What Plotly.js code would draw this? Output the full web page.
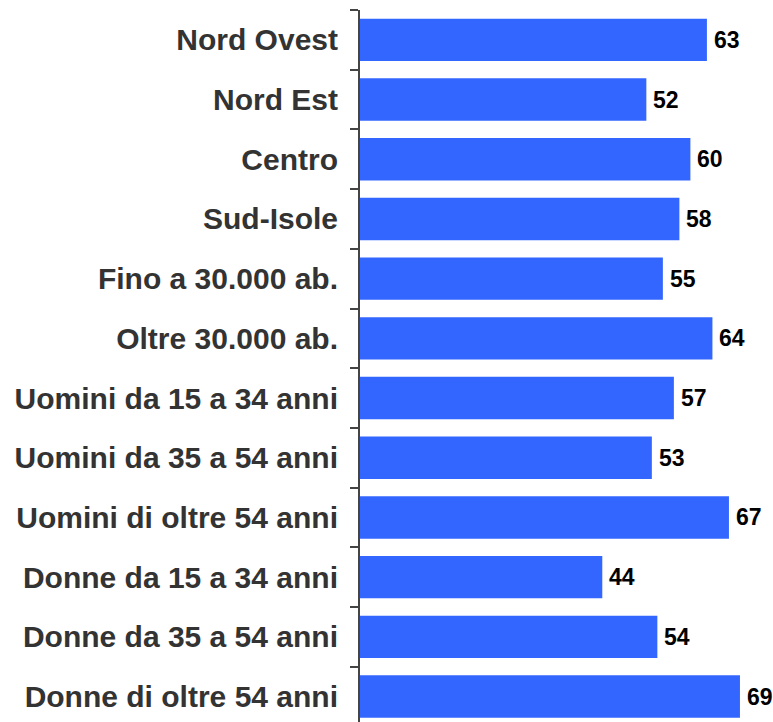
<!DOCTYPE html>
<html>
<head>
<meta charset="utf-8">
<script src="https://cdn.plot.ly/plotly-3.0.1.min.js"></script>
<style>html,body{margin:0;padding:0;background:#fff;}#chart{width:773px;height:722px;}</style>
</head>
<body>
<div id="chart"></div>
<script>
const categories = [
  "Nord Ovest",
  "Nord Est",
  "Centro",
  "Sud-Isole",
  "Fino a 30.000 ab.",
  "Oltre 30.000 ab.",
  "Uomini da 15 a 34 anni",
  "Uomini da 35 a 54 anni",
  "Uomini di oltre 54 anni",
  "Donne da 15 a 34 anni",
  "Donne da 35 a 54 anni",
  "Donne di oltre 54 anni"
];
const values = [63, 52, 60, 58, 55, 64, 57, 53, 67, 44, 54, 69];

const trace = {
  type: 'bar',
  orientation: 'h',
  x: values,
  y: categories,
  width: 0.71,
  marker: {color: '#3366FF'},
  cliponaxis: false,
  hoverinfo: 'none'
};

const annotations = values.map((v, i) => ({
  x: v,
  y: categories[i],
  xref: 'x',
  yref: 'y',
  text: String(v),
  showarrow: false,
  xanchor: 'left',
  yanchor: 'middle',
  xshift: 5,
  font: {family: 'Liberation Sans, Arial, sans-serif', size: 23, color: '#000000', weight: 'bold'}
}));

const layout = {
  width: 773,
  height: 722,
  margin: {l: 360, r: 0, t: 10, b: 0, pad: 0},
  paper_bgcolor: '#ffffff',
  plot_bgcolor: '#ffffff',
  showlegend: false,
  annotations: annotations,
  xaxis: {range: [0, 75], visible: false, fixedrange: true},
  yaxis: {
    type: 'category',
    range: [11.426, -0.5],
    showline: true,
    linecolor: '#444444',
    linewidth: 2,
    ticks: 'outside',
    tickson: 'boundaries',
    ticklen: 8,
    tickwidth: 2,
    tickcolor: '#444444',
    showgrid: false,
    zeroline: false,
    ticklabelstandoff: 14,
    tickfont: {family: 'Liberation Sans, Arial, sans-serif', size: 30, color: '#333333', weight: 'bold'},
    fixedrange: true
  }
};

Plotly.newPlot('chart', [trace], layout, {displayModeBar: false, staticPlot: true});
</script>
</body>
</html>
